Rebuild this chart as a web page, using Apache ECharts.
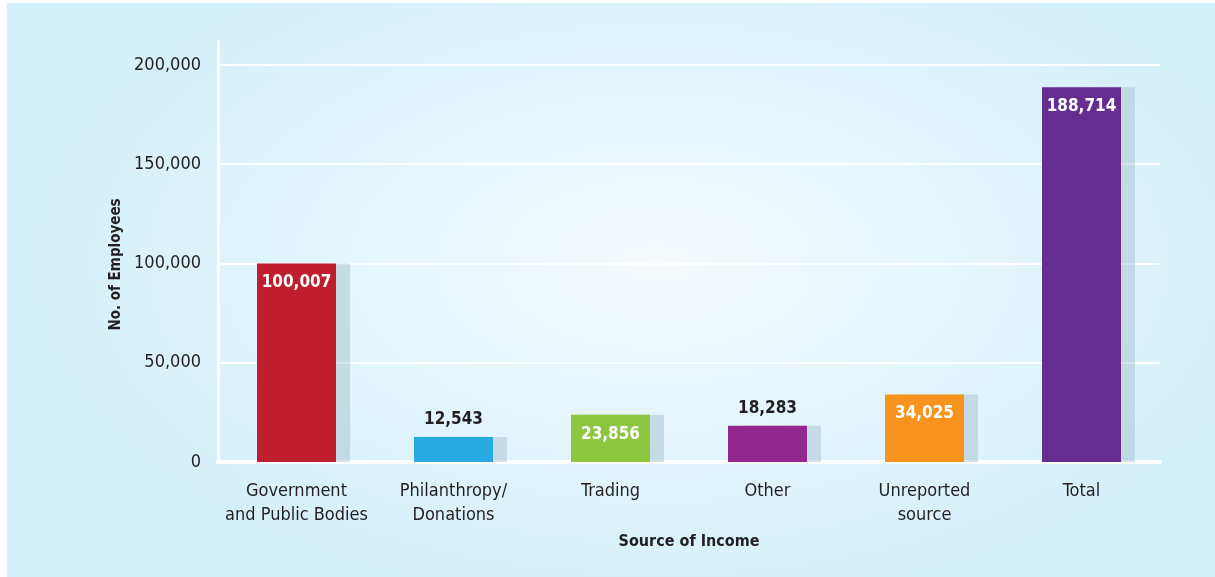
<!DOCTYPE html>
<html lang="en">
<head>
    <meta charset="UTF-8">
    <title>Source of Income</title>
    <script src="https://cdn.jsdelivr.net/npm/echarts@6/dist/echarts.min.js"></script>
    <style>
        html,body{
            margin:0;
            padding:0;
            background:#ffffff;
        }
        #wrap{
            position:absolute;
            left:7px;
            top:3px;
            width:1208px;
            height:574px;
            background:radial-gradient(ellipse 620px 340px at 650px 260px, #f6fbfe 0%, #e6f6fc 45%, #d4f0fa 100%);
        }
        #chart{
            position:absolute;
            left:-7px;
            top:-3px;
            width:1215px;
            height:577px;
        }
    </style>
</head>
<body>
<div id="wrap"><div id="chart"></div></div>

<script>
    var categories = ['Government\nand Public Bodies', 'Philanthropy/\nDonations', 'Trading', 'Other', 'Unreported\nsource', 'Total'];
    var employees = [100007, 12543, 23856, 18283, 34025, 188714];
    var barColors = ['#be1e2d', '#27aae1', '#8dc63f', '#92278f', '#f7941d', '#662d91'];
    // which labels sit on top of the bar instead of inside
    var labelOutside = [false, true, false, true, false, false];

    var fontFam = '"Liberation Sans Narrow", "DejaVu Sans Condensed", sans-serif';

    function fmt(v){
        return String(v).replace(/\B(?=(\d{3})+(?!\d))/g, ',');
    }

    var barData = employees.map(function(v, i){
        return {
            value: v,
            itemStyle: {color: barColors[i]},
            label: labelOutside[i] ? {
                position: 'top', distance: 9, color: '#231f20'
            } : {
                position: 'insideTop', distance: 11, color: '#ffffff'
            }
        };
    });

    var myChart = echarts.init(document.getElementById('chart'));
    var option = {
        backgroundColor: 'transparent',
        animation: false,
        grid: {left: 218, right: 55, top: 41, bottom: 115, containLabel: false},
        xAxis: {
            type: 'category',
            data: categories,
            name: 'Source of Income',
            nameLocation: 'middle',
            nameGap: 72,
            nameTextStyle: {fontFamily: fontFam, fontWeight: 'bold', fontSize: 16, color: '#231f20'},
            axisLine: {show: true, lineStyle: {color: '#ffffff', width: 4}},
            axisTick: {show: false},
            axisLabel: {
                fontFamily: fontFam, fontSize: 18, color: '#231f20',
                margin: 17, lineHeight: 24, interval: 0
            }
        },
        yAxis: {
            type: 'value',
            min: 0,
            max: 212000,
            interval: 50000,
            name: 'No. of Employees',
            nameLocation: 'middle',
            nameGap: 92,
            nameTextStyle: {fontFamily: fontFam, fontWeight: 'bold', fontSize: 15, color: '#231f20', padding: [0, 26, 0, 0]},
            axisLine: {show: true, lineStyle: {color: '#ffffff', width: 3}},
            axisTick: {show: false},
            axisLabel: {
                fontFamily: fontFam, fontSize: 18, color: '#231f20', margin: 17,
                showMaxLabel: false,
                formatter: function(v){ return v % 50000 === 0 ? fmt(v) : ''; }
            },
            splitLine: {show: true, showMaxLine: false, lineStyle: {color: 'rgba(255,255,255,0.9)', width: 2}}
        },
        series: [{
            type: 'bar',
            data: barData,
            barWidth: 79,
            itemStyle: {
                shadowColor: 'rgba(150,180,195,0.38)',
                shadowBlur: 0,
                shadowOffsetX: 14,
                shadowOffsetY: 0
            },
            label: {
                show: true,
                fontFamily: fontFam,
                fontWeight: 'bold',
                fontSize: 17,
                formatter: function(p){ return fmt(p.value); }
            }
        }]
    };
    myChart.setOption(option);
</script>
</body>
</html>
